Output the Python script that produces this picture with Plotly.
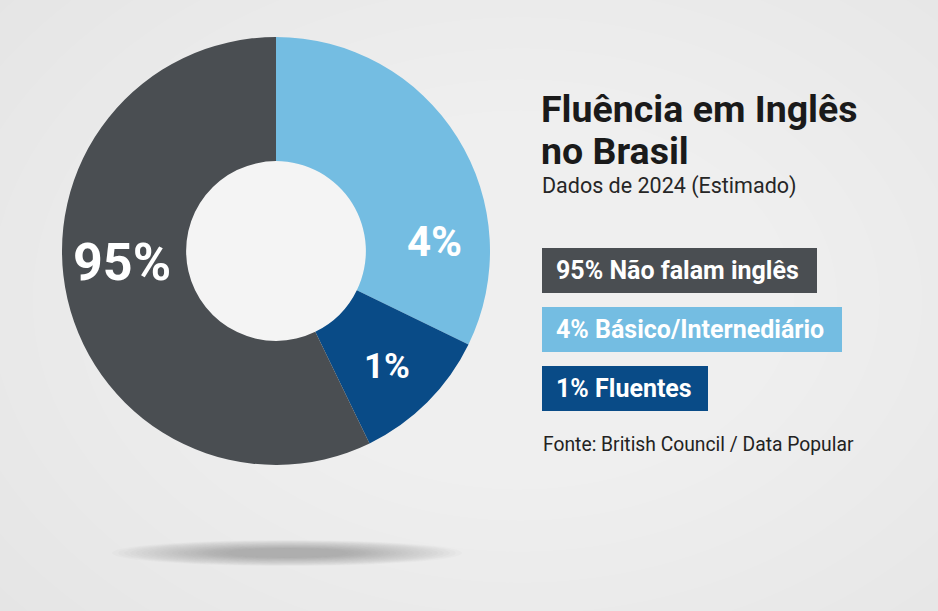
import plotly.graph_objects as go

# ---- data ----
categories = ["Básico/Intermediário", "Fluentes", "Não falam inglês"]
slice_share_visual = [32.2, 10.6, 57.2]          # angular share of each slice as drawn
slice_labels = ["4%", "1%", "95%"]
slice_colors = ["#74bde2", "#094b87", "#4a4e52"]

legend_texts = ["95% Não falam inglês", "4% Básico/Internediário", "1% Fluentes"]
legend_colors = ["#4a4e52", "#74bde2", "#094b87"]

title_lines = ["Fluência em Inglês", "no Brasil"]
subtitle = "Dados de 2024 (Estimado)"
source = "Fonte: British Council / Data Popular"

W, H = 938, 611
FONT = "Roboto"


def px(x):
    return x / W


def py(y):
    return 1 - y / H


fig = go.Figure()

# donut
cx, cy, r = 276, 251, 214
fig.add_trace(go.Pie(
    labels=categories,
    values=slice_share_visual,
    marker=dict(colors=slice_colors, line=dict(width=0)),
    hole=0.42,
    sort=False,
    direction="clockwise",
    rotation=0,
    textinfo="none",
    hoverinfo="label",
    showlegend=False,
    domain=dict(x=[px(cx - r), px(cx + r)], y=[py(cy + r), py(cy - r)]),
))

shapes = []
# soft radial background
for i in range(14):
    w = 1400 - 85 * i
    h = 1000 - 62 * i
    ox, oy = 520, 300
    shapes.append(dict(type="circle", xref="paper", yref="paper", layer="below",
                       x0=px(ox - w / 2), x1=px(ox + w / 2), y0=py(oy + h / 2), y1=py(oy - h / 2),
                       fillcolor="white", opacity=0.06, line=dict(width=0)))
# hole fill
hr = 90
shapes.append(dict(type="circle", xref="paper", yref="paper", layer="below",
                   x0=px(cx - hr), x1=px(cx + hr), y0=py(cy + hr), y1=py(cy - hr),
                   fillcolor="#f4f4f4", line=dict(width=0)))
# shadow under the donut
sx, sy = 287, 553
for i in range(20):
    w = 350 - 12 * i
    h = 26 - 0.9 * i
    shapes.append(dict(type="circle", xref="paper", yref="paper", layer="below",
                       x0=px(sx - w / 2), x1=px(sx + w / 2), y0=py(sy + h / 2), y1=py(sy - h / 2),
                       fillcolor="#66666c", opacity=0.028, line=dict(width=0)))

# legend boxes
box_rows = [(248, 293, 817), (307, 352, 842), (366, 411, 708)]
for (y0, y1, x1), col in zip(box_rows, legend_colors):
    shapes.append(dict(type="rect", xref="paper", yref="paper", layer="below",
                       x0=px(542), x1=px(x1), y0=py(y1), y1=py(y0),
                       fillcolor=col, line=dict(width=0)))

annotations = []
# slice labels
label_pos = [(434, 241, 42), (387, 366, 35), (122, 262, 52)]
for txt, (lx, ly, fs) in zip(slice_labels, label_pos):
    annotations.append(dict(text=f"<b>{txt}</b>", x=px(lx), y=py(ly), xref="paper", yref="paper",
                            xanchor="center", yanchor="middle", showarrow=False,
                            font=dict(family=FONT, size=fs, color="white")))

# title and subtitle
annotations.append(dict(text=f"<b>{title_lines[0]}</b>", x=px(539), y=py(109), xref="paper", yref="paper",
                        xanchor="left", yanchor="middle", showarrow=False,
                        font=dict(family=FONT, size=37.5, color="#1a1a1a")))
annotations.append(dict(text=f"<b>{title_lines[1]}</b>", x=px(539), y=py(151), xref="paper", yref="paper",
                        xanchor="left", yanchor="middle", showarrow=False,
                        font=dict(family=FONT, size=37.5, color="#1a1a1a")))
annotations.append(dict(text=subtitle, x=px(540), y=py(186), xref="paper", yref="paper",
                        xanchor="left", yanchor="middle", showarrow=False,
                        font=dict(family=FONT, size=21.5, color="#262626")))

# legend texts
for txt, (y0, y1, x1) in zip(legend_texts, box_rows):
    annotations.append(dict(text=f"<b>{txt}</b>", x=px(554), y=py((y0 + y1) / 2), xref="paper", yref="paper",
                            xanchor="left", yanchor="middle", showarrow=False,
                            font=dict(family=FONT, size=25, color="white")))

# source
annotations.append(dict(text=source, x=px(541), y=py(444), xref="paper", yref="paper",
                        xanchor="left", yanchor="middle", showarrow=False,
                        font=dict(family=FONT, size=19.3, color="#222222")))

fig.update_layout(
    width=W, height=H,
    margin=dict(l=0, r=0, t=0, b=0),
    paper_bgcolor="#e4e4e4",
    plot_bgcolor="rgba(0,0,0,0)",
    shapes=shapes,
    annotations=annotations,
)

fig.write_html("out.html")
